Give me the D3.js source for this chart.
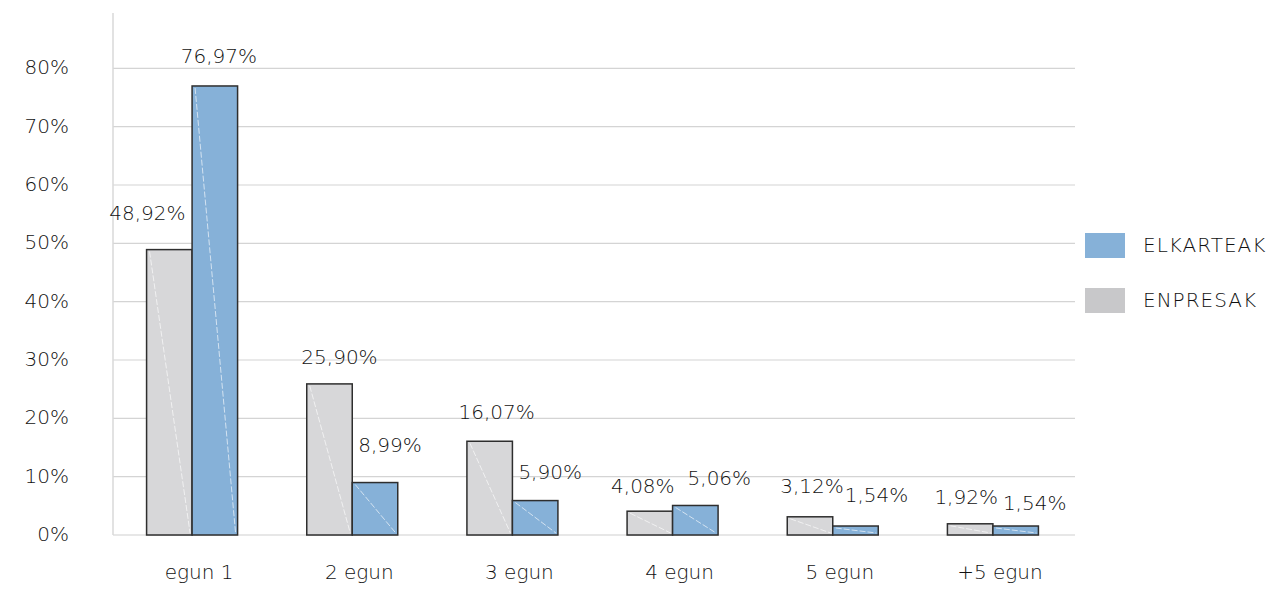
<!DOCTYPE html>
<html><head><meta charset="utf-8">
<script src="https://cdn.jsdelivr.net/npm/d3@7/dist/d3.min.js"></script>
<style>
body{margin:0;background:#fff;}
text{font-family:"DejaVu Sans",sans-serif;font-weight:300;fill:#111;}
</style></head>
<body><svg id="c" width="1273" height="590"></svg>
<script>
const categories = ["egun 1","2 egun","3 egun","4 egun","5 egun","+5 egun"];
const enpresak = [48.92,25.90,16.07,4.08,3.12,1.92];
const elkarteak = [76.97,8.99,5.90,5.06,1.54,1.54];
const yTicks = [0,10,20,30,40,50,60,70,80];
const seriesNames = ["ELKARTEAK","ENPRESAK"];
const fmt = v => v.toFixed(2).replace(".",",") + "%";

// label nudges (layout only)
const grayLabelDx = [-22,10,7,-7,2,-4];
const grayLabelDy = [-37,-27,-29,-25,-31,-27];
const blueLabelDx = [4,15,15,24,21,19];
const blueLabelDy = [-30,-38,-29,-27,-31,-23];

const svg = d3.select("#c");
const left = 113, right = 1075, top0 = 13, bottom = 535;
const y = d3.scaleLinear().domain([0,80]).range([bottom,68.3]);
const x = d3.scaleBand().domain(categories).range([left-1,right-2]).padding(0);
const bw = 45.5;
const gray = "#d7d7d9", blue = "#86b1d8", stroke = "#2e2e2e";

// grid
svg.append("g").selectAll("line").data(yTicks).join("line")
  .attr("x1",left).attr("x2",right).attr("y1",d=>y(d)).attr("y2",d=>y(d))
  .attr("stroke",d=>d===0?"#d0d0d0":"#d4d4d4").attr("stroke-width",1.2);
svg.append("line").attr("x1",left).attr("x2",left).attr("y1",top0).attr("y2",bottom)
  .attr("stroke","#d9d9d9").attr("stroke-width",1.5);

// y axis labels
const yAxis = d3.axisLeft(y).tickValues(yTicks).tickFormat(d=>d+"%").tickSize(0).tickPadding(0);
const ya = svg.append("g").attr("transform","translate(69,-1)").call(yAxis);
ya.select(".domain").remove();
ya.selectAll("text").attr("font-size",20).attr("dy","0.32em").style("font-family","DejaVu Sans").style("font-weight",300).attr("fill","#111");

// x axis labels
const xAxis = d3.axisBottom(x).tickSize(0).tickPadding(0);
const xa = svg.append("g").attr("transform","translate(7,565)").call(xAxis);
xa.select(".domain").remove();
xa.selectAll("text").attr("font-size",20).style("font-family","DejaVu Sans").style("font-weight",300).attr("fill","#111");

const groups = categories.map((c,i)=>({c,i,cx:x(c)+x.bandwidth()/2}));

function bars(vals, offset, fill){
  const g = svg.append("g");
  g.selectAll("rect").data(groups).join("rect")
    .attr("x",d=>d.cx+offset).attr("width",bw)
    .attr("y",d=>y(vals[d.i])).attr("height",d=>bottom-y(vals[d.i]))
    .attr("fill",fill).attr("stroke",stroke).attr("stroke-width",1.5);
  g.selectAll("line").data(groups).join("line")
    .attr("x1",d=>d.cx+offset+3).attr("y1",d=>y(vals[d.i])+2)
    .attr("x2",d=>d.cx+offset+bw-2).attr("y2",bottom-2)
    .attr("stroke","#fff").attr("stroke-width",0.8).attr("stroke-dasharray","6,2").attr("opacity",0.8);
}
bars(enpresak,-bw,gray);
bars(elkarteak,0,blue);

// value labels
svg.append("g").selectAll("text").data(groups).join("text")
  .attr("x",d=>d.cx-bw/2+grayLabelDx[d.i]).attr("y",d=>y(enpresak[d.i])+grayLabelDy[d.i])
  .attr("text-anchor","middle").attr("dy","0.35em").attr("font-size",20)
  .text(d=>fmt(enpresak[d.i]));
svg.append("g").selectAll("text").data(groups).join("text")
  .attr("x",d=>d.cx+bw/2+blueLabelDx[d.i]).attr("y",d=>y(elkarteak[d.i])+blueLabelDy[d.i])
  .attr("text-anchor","middle").attr("dy","0.35em").attr("font-size",20)
  .text(d=>fmt(elkarteak[d.i]));

// legend
const legColors = ["#86b1d8","#c8c8ca"];
const lg = svg.append("g");
seriesNames.forEach((n,i)=>{
  lg.append("rect").attr("x",1085).attr("y",233+i*55).attr("width",40).attr("height",25).attr("fill",legColors[i]);
  lg.append("text").attr("x",1143).attr("y",245+i*55).attr("dy","0.35em").attr("font-size",20)
    .attr("letter-spacing","1px").text(n);
});
</script></body></html>
